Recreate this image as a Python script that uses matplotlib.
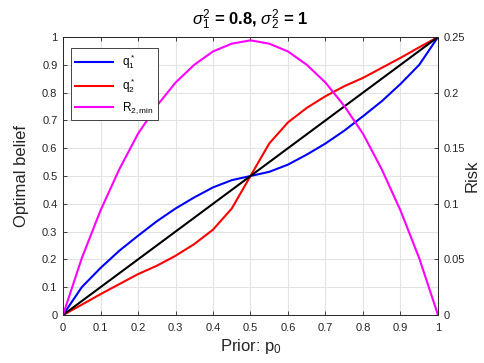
import matplotlib
matplotlib.use('Agg')
import matplotlib.pyplot as plt
from matplotlib.ticker import FuncFormatter

plt.rcParams['font.family'] = ['Liberation Sans', 'DejaVu Sans']
plt.rcParams['mathtext.fontset'] = 'custom'
plt.rcParams['mathtext.rm'] = 'Liberation Sans'
plt.rcParams['mathtext.it'] = 'Liberation Sans:italic'
plt.rcParams['mathtext.bf'] = 'Liberation Sans:bold'

# prior grid
p0 = [0, 0.05, 0.1, 0.15, 0.2, 0.25, 0.3, 0.35, 0.4, 0.45, 0.5,
      0.55, 0.6, 0.65, 0.7, 0.75, 0.8, 0.85, 0.9, 0.95, 1]
q1 = [0, 0.1, 0.169, 0.231, 0.285, 0.337, 0.383, 0.423, 0.459, 0.485, 0.5,
      0.515, 0.541, 0.577, 0.617, 0.663, 0.715, 0.769, 0.831, 0.9, 1]
q2 = [0, 0.037, 0.075, 0.111, 0.147, 0.177, 0.213, 0.255, 0.307, 0.383, 0.5,
      0.617, 0.693, 0.745, 0.787, 0.823, 0.853, 0.889, 0.925, 0.963, 1]
r2min = [0, 0.051, 0.094, 0.131, 0.163, 0.188, 0.209, 0.225, 0.237, 0.244, 0.247,
         0.244, 0.237, 0.225, 0.209, 0.188, 0.163, 0.131, 0.094, 0.051, 0]

fig = plt.figure(figsize=(4.85, 3.63), dpi=100)
ax = fig.add_axes([63/485, 1 - 315/363, 375/485, 278/363])
ax2 = ax.twinx()

gc = '#262626'
ax.plot(p0, q1, color='#0000ff', lw=1.5, label=r'q$_1^*$')
ax.plot(p0, q2, color='#ff0000', lw=1.5, label=r'q$_2^*$')
ax.plot([0, 1], [0, 1], color='k', lw=1.5)
ax2.plot(p0, r2min, color='#ff00ff', lw=1.5, label=r'R$_{2,\mathrm{min}}$')

ax.set_xlim(0, 1)
ax.set_ylim(0, 1)
ax2.set_ylim(0, 0.25)
ax.set_xticks([i / 10 for i in range(11)])
ax.set_yticks([i / 10 for i in range(11)])
ax2.set_yticks([0, 0.05, 0.1, 0.15, 0.2, 0.25])
fmt = FuncFormatter(lambda v, pos: ('%g' % round(v, 3)))
ax.xaxis.set_major_formatter(fmt)
ax.yaxis.set_major_formatter(fmt)
ax2.yaxis.set_major_formatter(fmt)

ax.grid(True, color='#e3e3e3', lw=0.8)
ax.set_axisbelow(True)
for a in (ax, ax2):
    a.tick_params(direction='in', labelsize=8, colors=gc, length=3, width=0.6, pad=4)
    for s in a.spines.values():
        s.set_color(gc)
        s.set_linewidth(0.6)
ax.tick_params(top=True, right=False)
ax.tick_params(axis='x', pad=6)

ax.set_xlabel('Prior: p$_0$', fontsize=12, color=gc, labelpad=3)
ax.set_ylabel('Optimal belief', fontsize=12, color=gc)
ax.yaxis.set_label_coords(-0.092, 0.5)
ax2.set_ylabel('Risk', fontsize=12, color=gc)
ax2.yaxis.set_label_coords(1.072, 0.5)
ax.set_title(r'$\sigma_1^2$ = 0.8, $\sigma_2^2$ = 1', fontsize=12, fontweight='bold', pad=9)

h1, l1 = ax.get_legend_handles_labels()
h2, l2 = ax2.get_legend_handles_labels()
leg = ax2.legend(h1 + h2, l1 + l2, loc='upper left', bbox_to_anchor=(0.005, 0.98),
                 fontsize=8.5, fancybox=False, edgecolor=gc, framealpha=1,
                 handlelength=3.2, borderpad=0.35, labelspacing=0.45)
leg.get_frame().set_linewidth(0.6)

fig.savefig('out.png', dpi=100)
